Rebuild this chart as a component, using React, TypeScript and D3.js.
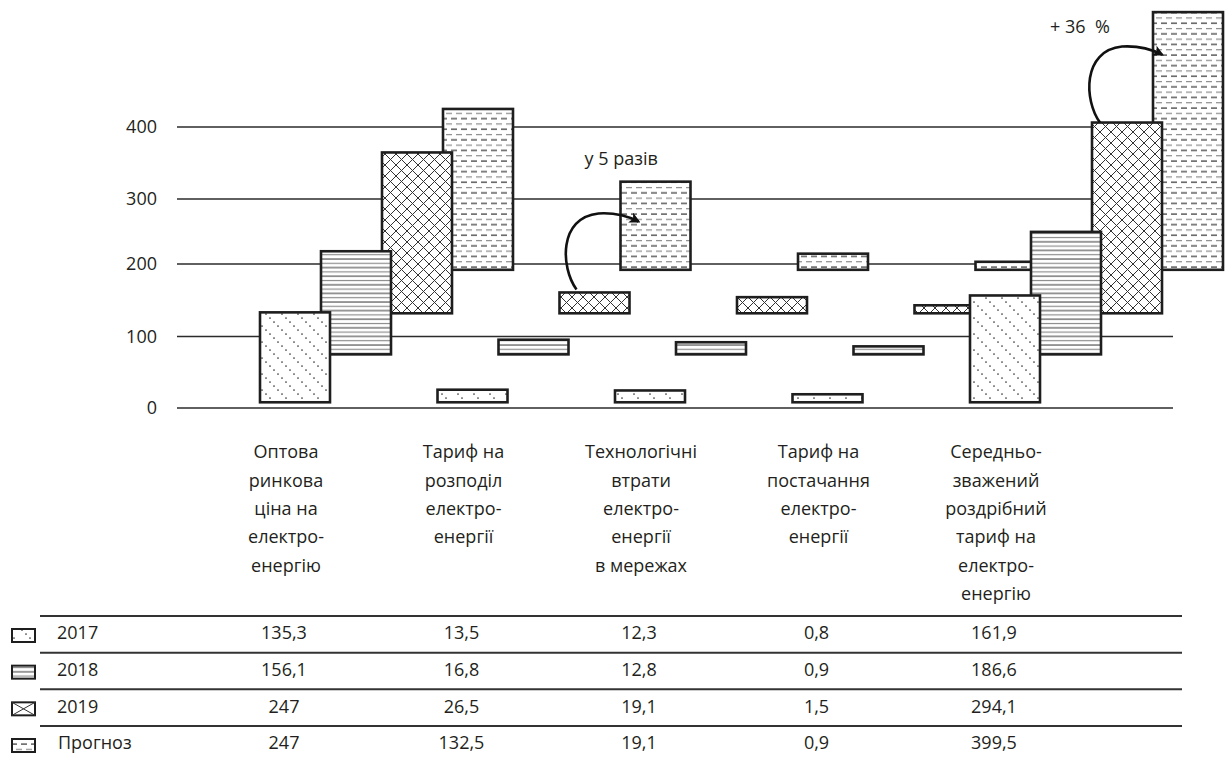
import React from 'react';
import * as d3 from 'd3';

// Components of the retail electricity price, UAH/MWh
const categoryLabels = [
  'Оптова\nринкова\nціна на\nелектро-\nенергію',
  'Тариф на\nрозподіл\nелектро-\nенергії',
  'Технологічні\nвтрати\nелектро-\nенергії\nв мережах',
  'Тариф на\nпостачання\nелектро-\nенергії',
  'Середньо-\nзважений\nроздрібний\nтариф на\nелектро-\nенергію',
];
const seriesNames = ['2017', '2018', '2019', 'Прогноз'];
const values2017 = [135.3, 13.5, 12.3, 0.8, 161.9];
const values2018 = [156.1, 16.8, 12.8, 0.9, 186.6];
const values2019 = [247, 26.5, 19.1, 1.5, 294.1];
const valuesForecast = [247, 132.5, 19.1, 0.9, 399.5];
const seriesValues = [values2017, values2018, values2019, valuesForecast];
const gridTicks = [0, 100, 200, 300, 400];

// growth callouts: from the 2019 bar to the forecast bar of a category
const callouts = [
  { category: 1, text: 'у 5 разів', startDx: 17, startDy: -3, textDx: 8, textDy: -124 },
  { category: 4, text: '+ 36  %', startDx: 8, startDy: 0, textDx: -50, textDy: -90 },
];

const W = 1225;
const H = 760;
const FONT = '"Open Sans", "Noto Sans", sans-serif';
const INK = '#231f20';

// axis scale for the horizontal reference lines
const yGrid = d3.scaleLinear().domain(gridTicks).range([408, 336.5, 264, 199, 127]);
// each year's bars start from their own stepped floor
const seriesFloor = [8, 75, 132, 192];
const barHeight = d3.scaleLinear().domain([0, 400]).range([4, 258]);
const MIN_BAR = 8;
const BAR_W = 70;

const xCat = d3
  .scaleBand<number>()
  .domain(d3.range(categoryLabels.length))
  .range([260, 260 + 177.5 * categoryLabels.length]);
const xSeries = d3.scaleLinear().domain([0, 3]).range([0, 183]);

const patternIds = ['p2017', 'p2018', 'p2019', 'pForecast'];

const fmt = d3.formatLocale({
  decimal: ',',
  thousands: ' ',
  grouping: [3],
  currency: ['', ''],
}).format('~f');

const rowY = d3.scalePoint<string>().domain(seriesNames).range([633, 743]);

function barGeom(s: number, c: number) {
  const v = seriesValues[s][c];
  const x = (xCat(c) as number) + xSeries(s);
  const base = yGrid(seriesFloor[s]);
  const h = Math.max(MIN_BAR, barHeight(v));
  return { x, y: base - h, h, base };
}

function Patterns() {
  return (
    <defs>
      <pattern id="p2017" patternUnits="userSpaceOnUse" width={16} height={16}>
        {[2, 6, 10, 14].map((t) => (
          <circle key={t} cx={t} cy={t} r={0.85} fill="#333" />
        ))}
      </pattern>
      <pattern id="p2018" patternUnits="userSpaceOnUse" width={10} height={8.6}>
        <line x1={0} x2={10} y1={1} y2={1} stroke="#333" strokeWidth={1} />
        <line x1={0} x2={10} y1={5.3} y2={5.3} stroke="#8c8c8c" strokeWidth={1.2} />
      </pattern>
      <pattern id="p2019" patternUnits="userSpaceOnUse" width={11} height={11}>
        <path
          d="M0,0L11,11M-1,10L1,12M10,-1L12,1M11,0L0,11M-1,1L1,-1M10,12L12,10"
          stroke="#333"
          strokeWidth={1}
          fill="none"
        />
      </pattern>
      <pattern id="pForecast" patternUnits="userSpaceOnUse" width={20} height={10.6}>
        <path d="M1,2H7M11,2H17" stroke="#333" strokeWidth={1.1} />
        <path d="M0,7.3H2M6,7.3H12M16,7.3H20" stroke="#8c8c8c" strokeWidth={1.2} />
      </pattern>
      <marker
        id="arrowHead"
        viewBox="0 0 10 10"
        refX={8}
        refY={5}
        markerWidth={11}
        markerHeight={11}
        markerUnits="userSpaceOnUse"
        orient="auto"
      >
        <path d="M0,0L10,5L0,10L2.5,5Z" fill="#111" />
      </marker>
    </defs>
  );
}

export default function App() {
  const gridX0 = 177;
  const gridX1 = 1173;

  // draw later series first so earlier years sit on top
  const order = [3, 2, 1, 0];

  const tableLineX0 = 40;
  const tableLineX1 = 1182;

  return (
    <svg
      width={W}
      height={H}
      style={{ position: 'absolute', left: 0, top: 0, background: '#fff' }}
      fontFamily={FONT}
    >
      <Patterns />
      <rect width={W} height={H} fill="#fff" />

      {/* reference lines and their labels */}
      {gridTicks.map((t) => (
        <g key={t}>
          <line
            x1={gridX0}
            x2={gridX1}
            y1={yGrid(t)}
            y2={yGrid(t)}
            stroke="#2b2b2b"
            strokeWidth={1.6}
          />
          <text
            x={157}
            y={yGrid(t)}
            dy="0.35em"
            textAnchor="end"
            fontSize={18}
            fill={INK}
          >
            {t}
          </text>
        </g>
      ))}

      {/* bars */}
      {order.map((s) =>
        seriesValues[s].map((_, c) => {
          const g = barGeom(s, c);
          return (
            <g key={`${s}-${c}`}>
              <rect x={g.x} y={g.y} width={BAR_W} height={g.h} fill="#fff" />
              <rect
                x={g.x}
                y={g.y}
                width={BAR_W}
                height={g.h}
                fill={`url(#${patternIds[s]})`}
                stroke="#1e1e1e"
                strokeWidth={2.6}
              />
            </g>
          );
        })
      )}

      {/* growth callouts */}
      {callouts.map((a) => {
        const g = barGeom(2, a.category);
        const sx = g.x + a.startDx;
        const sy = g.y + a.startDy;
        return (
          <g key={a.category}>
            <path
              transform={`translate(${sx},${sy})`}
              d="M0,0C-16,-22 -18,-72 22,-76C38,-77 52,-73 62,-68"
              fill="none"
              stroke="#111"
              strokeWidth={2.6}
              markerEnd="url(#arrowHead)"
            />
            <text
              x={sx + a.textDx}
              y={sy + a.textDy}
              fontSize={18}
              fill={INK}
              style={{ whiteSpace: 'pre' }}
            >
              {a.text}
            </text>
          </g>
        );
      })}

      {/* category captions */}
      {categoryLabels.map((lab, c) => {
        const cx = (xCat(c) as number) + 26;
        return (
          <text key={c} x={cx} y={452} textAnchor="middle" fontSize={18} fill={INK}>
            {lab.split('\n').map((line, i) => (
              <tspan key={i} x={cx} y={452 + i * 28.3} dy="0.35em">
                {line}
              </tspan>
            ))}
          </text>
        );
      })}

      {/* data table with legend keys */}
      {seriesNames.map((name, s) => {
        const y = rowY(name) as number;
        const ix = 12;
        const iy = y - 4;
        const iw = 23;
        const ih = 13;
        return (
          <g key={name}>
            <line
              x1={tableLineX0}
              x2={tableLineX1}
              y1={y - 17}
              y2={y - 17}
              stroke="#333"
              strokeWidth={2}
            />
            {s === 2 ? (
              <g>
                <rect x={ix} y={iy} width={iw} height={ih} fill="#fff" stroke="#1e1e1e" strokeWidth={2} />
                <path
                  d={`M${ix},${iy}L${ix + iw},${iy + ih}M${ix + iw},${iy}L${ix},${iy + ih}`}
                  stroke="#333"
                  strokeWidth={1}
                />
              </g>
            ) : (
              <rect
                x={ix}
                y={iy}
                width={iw}
                height={ih}
                fill={`url(#${patternIds[s]})`}
                stroke="#1e1e1e"
                strokeWidth={2}
              />
            )}
            <text x={name === 'Прогноз' ? 58 : 57} y={y} dy="0.35em" fontSize={18} fill={INK}>
              {name}
            </text>
            {seriesValues[s].map((v, c) => (
              <text
                key={c}
                x={(xCat(c) as number) + 24}
                y={y}
                dy="0.35em"
                textAnchor="middle"
                fontSize={18}
                fill={INK}
              >
                {fmt(v)}
              </text>
            ))}
          </g>
        );
      })}
    </svg>
  );
}
